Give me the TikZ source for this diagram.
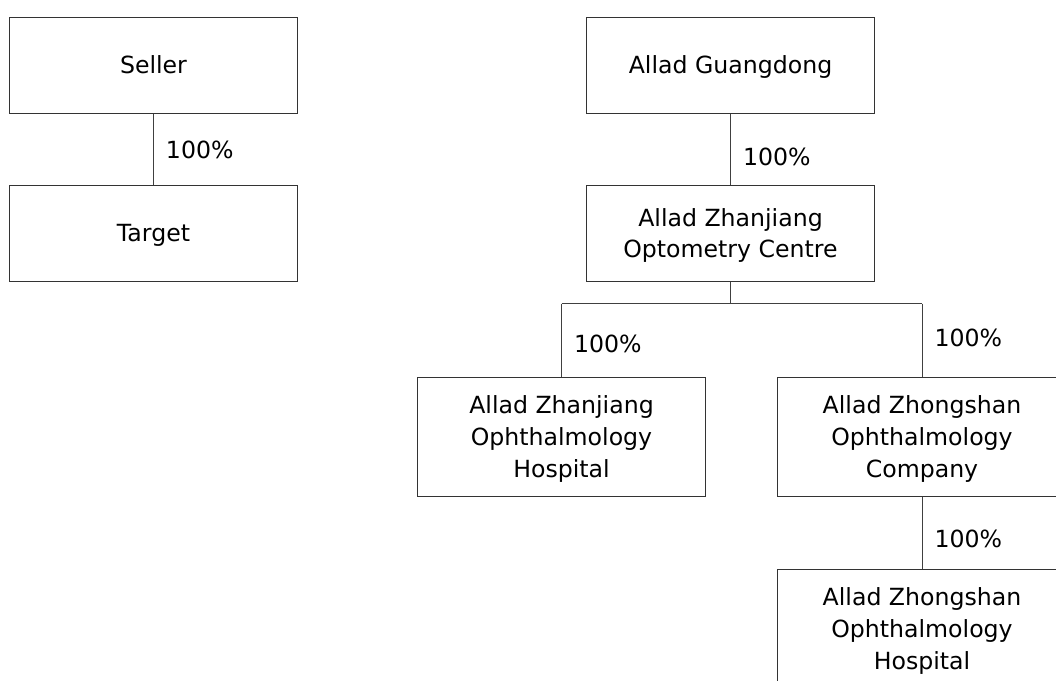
\documentclass[tikz,border=0pt]{standalone}
\usepackage{fontspec}
\setmainfont{DejaVu Sans}
\begin{document}
\begin{tikzpicture}[x=0.025cm, y=-0.025cm,
  every node/.style={font=\fontsize{16.8}{22.7}\selectfont},
  entity/.style={rectangle, draw=black!80, line width=0.7pt, inner sep=0pt, minimum width=7.2cm, minimum height=2.4cm, align=center, text depth=0pt},
  tall/.style={entity, minimum height=2.975cm},
  link/.style={draw=black!75, line width=0.7pt},
  pct/.style={right, inner sep=0pt, xshift=0.3cm}]
\clip (0,0) rectangle (1056,680);
\node[entity] (seller) at (153.5,65) {Seller};
\node[entity] (target) at (153.5,233) {Target};
\node[entity] (guangdong) at (730.5,65) {Allad Guangdong};
\node[entity] (optometry) at (730.5,233) {Allad Zhanjiang\\Optometry Centre};
\node[tall] (zjhosp) at (561.5,436.5) {Allad Zhanjiang\\Ophthalmology\\Hospital};
\node[tall] (zscomp) at (922,436.5) {Allad Zhongshan\\Ophthalmology\\Company};
\node[tall] (zshosp) at (922,628.5) {Allad Zhongshan\\Ophthalmology\\Hospital};
\coordinate (fork) at (730.5,303.5);
\draw[link] (seller)--node[pct, pos=0.51] {100\%} (target);
\draw[link] (guangdong)--node[pct, pos=0.61] {100\%} (optometry);
\draw[link] (optometry)--(fork);
\draw[link] (zjhosp.north |- fork)--(zscomp.north |- fork);
\draw[link] (zjhosp.north |- fork)--node[pct, pos=0.55] {100\%} (zjhosp);
\draw[link] (zscomp.north |- fork)--node[pct, pos=0.47] {100\%} (zscomp);
\draw[link] (zscomp)--node[pct, pos=0.59] {100\%} (zshosp);
\end{tikzpicture}
\end{document}
